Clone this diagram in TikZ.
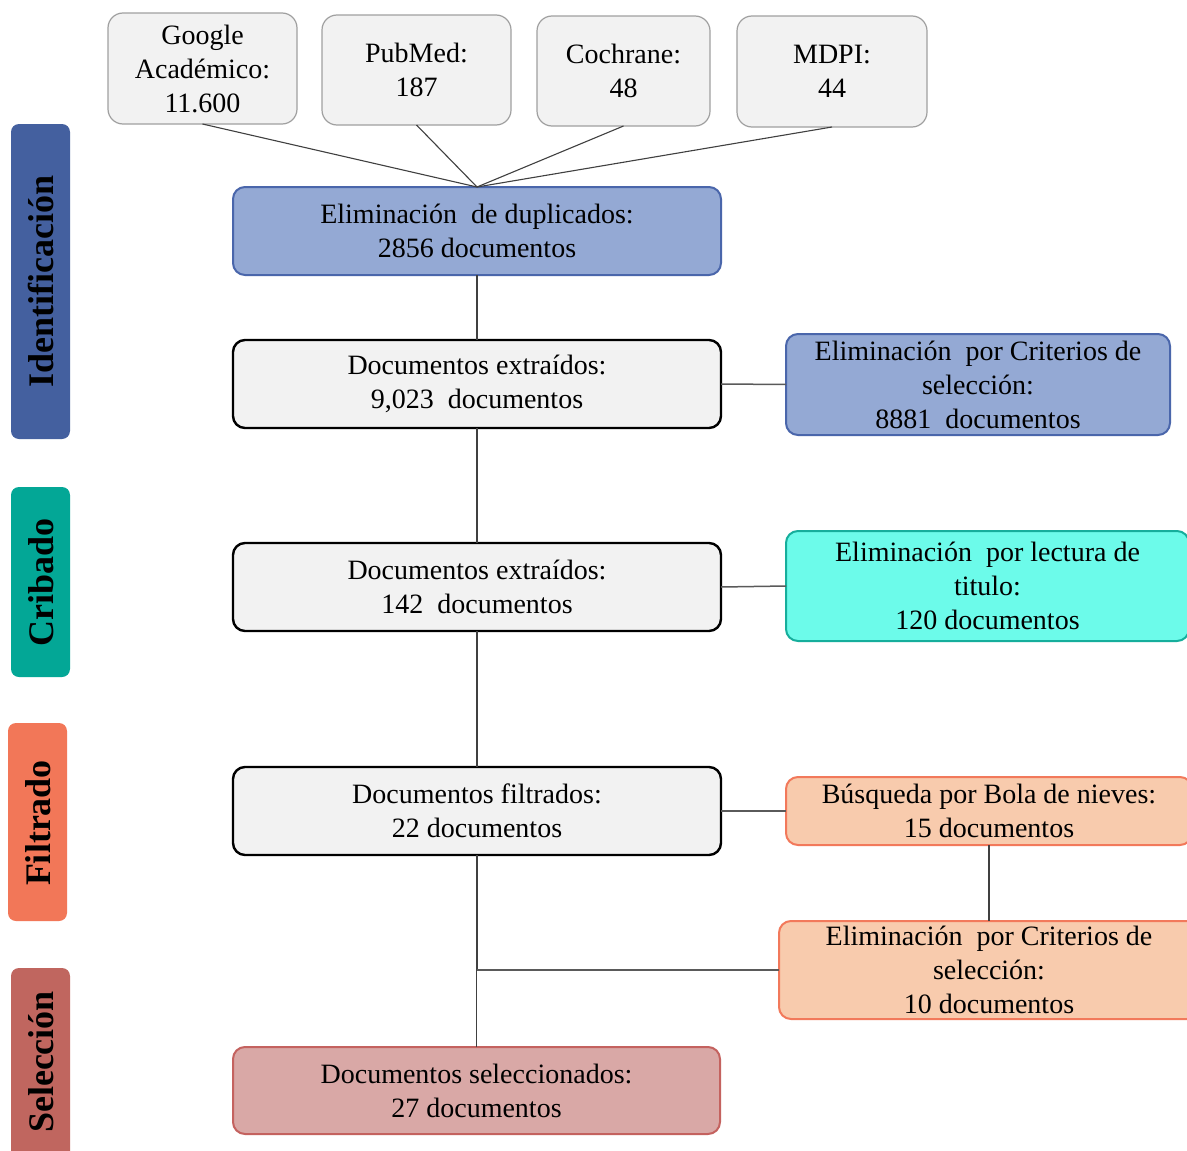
\documentclass[tikz,border=0pt]{standalone}
\usepackage{fontspec}
\setmainfont{Liberation Serif}

\definecolor{srcfill}{HTML}{F2F2F2}
\definecolor{srcline}{HTML}{A0A0A0}
\definecolor{bluefill}{HTML}{94A9D4}
\definecolor{blueline}{HTML}{4A66AB}
\definecolor{cyanfill}{HTML}{6CFBEA}
\definecolor{cyanline}{HTML}{16AE9C}
\definecolor{orfill}{HTML}{F8CBAD}
\definecolor{orline}{HTML}{F2795B}
\definecolor{redfill}{HTML}{D9A8A6}
\definecolor{redline}{HTML}{C4625F}
\definecolor{barident}{HTML}{44609F}
\definecolor{barcrib}{HTML}{03A796}
\definecolor{barfilt}{HTML}{F27758}
\definecolor{barsel}{HTML}{C0665F}
\definecolor{linkgray}{HTML}{404040}
\definecolor{sidegray}{HTML}{5A5A5A}

\tikzset{
  box/.style={rounded corners=12pt, align=center, inner sep=0pt, outer sep=0pt,
    font=\fontsize{28}{34}\selectfont},
  srcbox/.style={box, rounded corners=15pt, fill=srcfill, draw=srcline, line width=1.2pt},
  docbox/.style={box, fill=srcfill, draw=black, line width=2.4pt},
  bluebox/.style={box, fill=bluefill, draw=blueline, line width=2pt},
  cyanbox/.style={box, fill=cyanfill, draw=cyanline, line width=2pt},
  orbox/.style={box, fill=orfill, draw=orline, line width=2pt},
  selbox/.style={box, fill=redfill, draw=redline, line width=2pt},
  phase/.style={rounded corners=8pt, inner sep=0pt, outer sep=0pt},
  phasetext/.style={rotate=90, font=\fontsize{36}{40}\selectfont\bfseries, text=black},
  link/.style={draw=linkgray, line width=1.1pt},
  sidelink/.style={draw=sidegray, line width=1.5pt},
}

\begin{document}
\begin{tikzpicture}[x=1pt, y=-1pt]
  \fill[white] (0,0) rectangle (1187,1151);
  \clip (0,0) rectangle (1187,1151);

  % phase bars on the left
  \fill[phase, barident] (11,124) rectangle (70,439);
  \node[phasetext] (tident) at (41,281.5) {Identificación};
  \fill[phase, barcrib] (11,487) rectangle (70,677);
  \node[phasetext] (tcrib) at (41,582) {Cribado};
  \fill[phase, barfilt] (8,723) rectangle (67,921);
  \node[phasetext] (tfilt) at (38,823) {Filtrado};
  \fill[phase, barsel] (11,968) rectangle (70,1160);
  \node[phasetext] (tsel) at (41,1062) {Selección};

  % database sources
  \node[srcbox, minimum width=189pt, minimum height=111pt] (g) at (202.5,68.5) {Google\\Académico:\\11.600};
  \node[srcbox, minimum width=189pt, minimum height=110pt] (p) at (416.5,70) {PubMed:\\187};
  \node[srcbox, minimum width=173pt, minimum height=110pt] (c) at (623.5,71) {Cochrane:\\48};
  \node[srcbox, minimum width=190pt, minimum height=111pt] (m) at (832,71.5) {MDPI:\\44};

  % main column
  \node[bluebox, minimum width=488pt, minimum height=88pt] (dup) at (477,231) {Eliminación\ \ de duplicados:\\2856 documentos};
  \node[docbox, minimum width=488pt, minimum height=88pt] (ext1) at (477,384) {Documentos extraídos:\\9,023\ \ documentos};
  \node[docbox, minimum width=488pt, minimum height=88pt] (ext2) at (477,587) {Documentos extraídos:\\142\ \ documentos};
  \node[docbox, minimum width=488pt, minimum height=88pt] (filt) at (477,811) {Documentos filtrados:\\22 documentos};
  \node[selbox, minimum width=487pt, minimum height=87pt] (sel) at (476.5,1090.5) {Documentos seleccionados:\\27 documentos};

  % side boxes
  \node[bluebox, minimum width=384pt, minimum height=101pt] (elim1) at (978,384.5) {Eliminación\ \ por Criterios de\\selección:\\8881\ \ documentos};
  \node[cyanbox, minimum width=403pt, minimum height=110pt] (lect) at (987.5,586) {Eliminación\ \ por lectura de\\titulo:\\120 documentos};
  \node[orbox, minimum width=406pt, minimum height=68pt] (busq) at (989,811) {Búsqueda por Bola de nieves:\\15 documentos};
  \node[orbox, minimum width=420pt, minimum height=98pt] (elim2) at (989,970) {Eliminación\ \ por Criterios de\\selección:\\10 documentos};

  % connectors from the sources
  \draw[link] (g.south) -- (dup.north);
  \draw[link] (p.south) -- (dup.north);
  \draw[link] (c.south) -- (dup.north);
  \draw[link] (m.south) -- (dup.north);

  % main flow
  \draw[link] (dup.south) -- (ext1.north);
  \draw[link] (ext1.south) -- (ext2.north);
  \draw[link] (ext2.south) -- (filt.north);
  \coordinate (j) at (filt.south |- elim2.west);
  \draw[link] (filt.south) -- (j);
  \draw[sidelink] (j) -- (elim2.west);
  \draw[link] (sel.north) -- (sel.north |- j);

  % side connectors
  \draw[sidelink] (ext1.east) -- (elim1.west);
  \draw[sidelink] (ext2.east) -- (lect.west);
  \draw[sidelink] (filt.east) -- (busq.west);
  \draw[link] (busq.south) -- (elim2.north);
\end{tikzpicture}
\end{document}
